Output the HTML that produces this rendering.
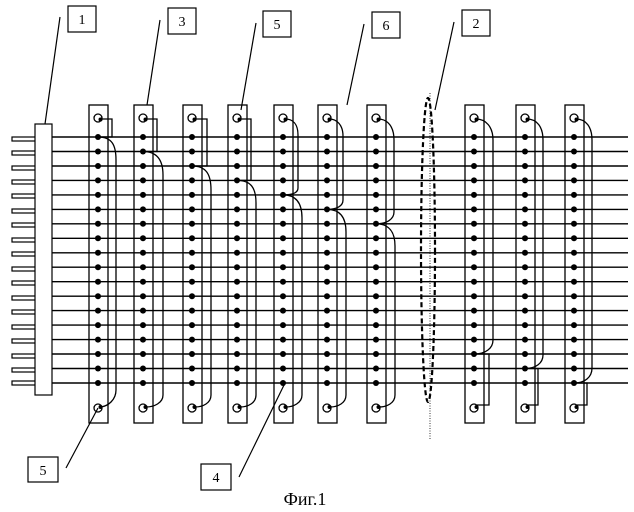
<!DOCTYPE html>
<html><head><meta charset="utf-8"><style>html,body{margin:0;padding:0;background:#fff}svg{display:block}</style></head>
<body>
<svg width="634" height="512" viewBox="0 0 634 512" xmlns="http://www.w3.org/2000/svg" font-family="Liberation Serif, serif">
<defs>
<g id="dots" fill="#000">
<circle cx="9" cy="137" r="3"/><circle cx="9" cy="151.5" r="3"/><circle cx="9" cy="166" r="3"/><circle cx="9" cy="180.4" r="3"/><circle cx="9" cy="194.9" r="3"/><circle cx="9" cy="209.4" r="3"/><circle cx="9" cy="223.8" r="3"/><circle cx="9" cy="238.3" r="3"/><circle cx="9" cy="252.8" r="3"/><circle cx="9" cy="267.2" r="3"/><circle cx="9" cy="281.7" r="3"/><circle cx="9" cy="296.2" r="3"/><circle cx="9" cy="310.6" r="3"/><circle cx="9" cy="325.1" r="3"/><circle cx="9" cy="339.6" r="3"/><circle cx="9" cy="354" r="3"/><circle cx="9" cy="368.5" r="3"/><circle cx="9" cy="383" r="3"/>
</g>
<g id="strip">
<rect x="0" y="105" width="19" height="318" fill="none" stroke="#000" stroke-width="1.3"/>
<use href="#dots"/>
<circle cx="9" cy="118" r="4" fill="#fff" stroke="#000" stroke-width="1.3"/>
<circle cx="11.5" cy="119.5" r="2" fill="#000"/>
<circle cx="9" cy="408" r="4" fill="#fff" stroke="#000" stroke-width="1.3"/>
<circle cx="11.5" cy="407" r="2" fill="#000"/>
</g>
</defs>

<g stroke="#000" stroke-width="1.2" fill="#fff">
<rect x="12" y="137" width="24" height="4"/><rect x="12" y="151" width="24" height="4"/><rect x="12" y="166" width="24" height="4"/><rect x="12" y="180" width="24" height="4"/><rect x="12" y="194" width="24" height="4"/><rect x="12" y="209" width="24" height="4"/><rect x="12" y="223" width="24" height="4"/><rect x="12" y="238" width="24" height="4"/><rect x="12" y="252" width="24" height="4"/><rect x="12" y="267" width="24" height="4"/><rect x="12" y="281" width="24" height="4"/><rect x="12" y="296" width="24" height="4"/><rect x="12" y="310" width="24" height="4"/><rect x="12" y="325" width="24" height="4"/><rect x="12" y="339" width="24" height="4"/><rect x="12" y="354" width="24" height="4"/><rect x="12" y="368" width="24" height="4"/><rect x="12" y="381" width="24" height="4"/>
<rect x="35" y="124" width="17" height="271"/>
</g>

<g stroke="#000" stroke-width="1.4">
<line x1="52" y1="137" x2="628" y2="137"/><line x1="52" y1="151.5" x2="628" y2="151.5"/><line x1="52" y1="166" x2="628" y2="166"/><line x1="52" y1="180.4" x2="628" y2="180.4"/><line x1="52" y1="194.9" x2="628" y2="194.9"/><line x1="52" y1="209.4" x2="628" y2="209.4"/><line x1="52" y1="223.8" x2="628" y2="223.8"/><line x1="52" y1="238.3" x2="628" y2="238.3"/><line x1="52" y1="252.8" x2="628" y2="252.8"/><line x1="52" y1="267.2" x2="628" y2="267.2"/><line x1="52" y1="281.7" x2="628" y2="281.7"/><line x1="52" y1="296.2" x2="628" y2="296.2"/><line x1="52" y1="310.6" x2="628" y2="310.6"/><line x1="52" y1="325.1" x2="628" y2="325.1"/><line x1="52" y1="339.6" x2="628" y2="339.6"/><line x1="52" y1="354" x2="628" y2="354"/><line x1="52" y1="368.5" x2="628" y2="368.5"/><line x1="52" y1="383" x2="628" y2="383"/>
</g>

<use href="#strip" x="89"/><use href="#strip" x="134"/><use href="#strip" x="183"/><use href="#strip" x="228"/><use href="#strip" x="274"/><use href="#strip" x="318"/><use href="#strip" x="367"/><use href="#strip" x="465"/><use href="#strip" x="516"/><use href="#strip" x="565"/>

<g stroke="#000" stroke-width="1.3" fill="none">
<path d="M100 119 H112 V137 H98"/><path d="M98 137 C112 137 116 145 116 160 V390 C116 400 108 406 101 407"/>
<path d="M145 119 H157 V151.5 H143"/><path d="M143 151.5 C157 151.5 163 160 163 175 V395 C163 403 154 407 146 407"/>
<path d="M194 119 H207 V166 H192"/><path d="M192 166 C206 166 211 174 211 190 V395 C211 403 203 407 195 407"/>
<path d="M239 119 H251 V180.4 H237"/><path d="M237 180.4 C251 180.4 256 188 256 203 V395 C256 403 248 407 240 407"/>
<path d="M285 119 C293 119 298 124 298 135 V188 C298 193 292 194.9 283 194.9"/><path d="M283 194.9 C296 194.9 302 203 302 218 V395 C302 403 293 407 286 407"/>
<path d="M329 119 C337 119 343 125 343 136 V200 C343 206 337 209.4 327 209.4"/><path d="M327 209.4 C340 209.4 346 217 346 232 V395 C346 403 338 407 330 407"/>
<path d="M378 119 C388 119 394 127 394 140 V212 C394 219 387 223.8 376 223.8"/><path d="M376 223.8 C389 223.8 395 232 395 246 V395 C395 403 387 407 379 407"/>
<path d="M476 119 C486 119 493 127 493 140 V340 C493 348 486 354 474 354"/><path d="M474 354 H489 V405 H477"/>
<path d="M527 119 C537 119 543 127 543 140 V355 C543 363 536 368.5 525 368.5"/><path d="M525 368.5 H538 V405 H528"/>
<path d="M576 119 C586 119 592 127 592 140 V368 C592 377 585 383 574 383"/><path d="M574 383 H587 V405 H577"/>
</g>

<ellipse cx="428" cy="250" rx="7" ry="152" fill="none" stroke="#000" stroke-width="2.2" stroke-dasharray="5,3"/>
<line x1="430" y1="93" x2="430" y2="440" stroke="#000" stroke-width="0.8" stroke-dasharray="1,1.5"/>

<g stroke="#000" stroke-width="1.2" fill="#fff">
<rect x="68" y="6" width="28" height="26"/><rect x="168" y="8" width="28" height="26"/><rect x="263" y="11" width="28" height="26"/><rect x="372" y="12" width="28" height="26"/><rect x="462" y="10" width="28" height="26"/>
<rect x="28" y="457" width="30" height="25"/><rect x="201" y="464" width="30" height="26"/>
</g>
<g stroke="#000" stroke-width="1.2">
<line x1="60" y1="17" x2="45" y2="124"/><line x1="160" y1="20" x2="147" y2="105"/><line x1="256" y1="23" x2="241" y2="110"/><line x1="364" y1="24" x2="347" y2="105"/><line x1="454" y1="22" x2="435" y2="110"/>
<line x1="66" y1="468" x2="98" y2="408"/><line x1="239" y1="477" x2="285" y2="383"/>
</g>
<g font-size="14" text-anchor="middle" fill="#000">
<text x="82" y="24">1</text><text x="182" y="26">3</text><text x="277" y="29">5</text><text x="386" y="30">6</text><text x="476" y="28">2</text>
<text x="43" y="475">5</text><text x="216" y="482">4</text>
</g>
<text x="305" y="505" font-size="18" text-anchor="middle" fill="#000">Фиг.1</text>
</svg>
</body></html>
